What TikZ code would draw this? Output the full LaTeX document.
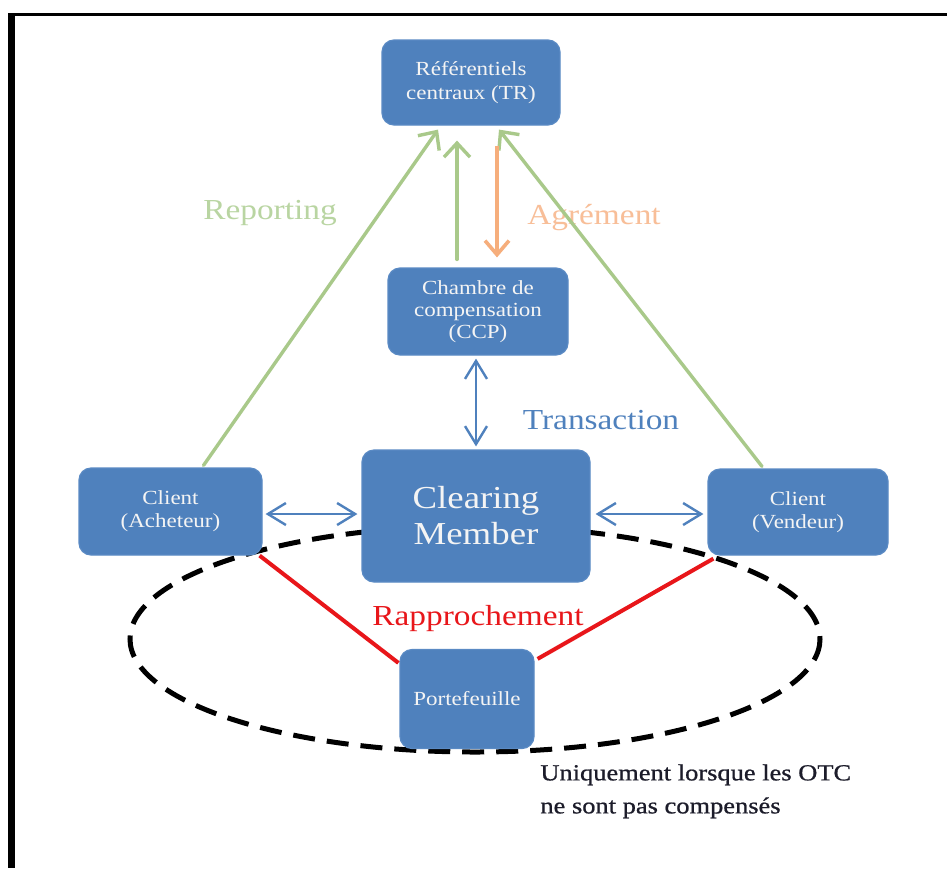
\documentclass[tikz,border=0pt]{standalone}
\usepackage{fontspec}
\setmainfont{Liberation Serif}[FakeStretch=1.15]
\newfontfamily\notefont{Liberation Serif}[FakeStretch=1.15,FakeBold=0.8]
\usetikzlibrary{arrows.meta,calc}

\definecolor{boxblue}{HTML}{4F81BD}
\definecolor{boxedge}{HTML}{5A8AC4}
\definecolor{boxtext}{HTML}{F4F4F4}
\definecolor{arrgreen}{HTML}{A9C98A}
\definecolor{lblgreen}{HTML}{B9D5A2}
\definecolor{arrorange}{HTML}{F6AE7C}
\definecolor{lblorange}{HTML}{F8BE98}
\definecolor{linkblue}{HTML}{4F81BD}
\definecolor{matchred}{HTML}{E8161A}
\definecolor{notetext}{HTML}{1C1C2A}

\begin{document}
\begin{tikzpicture}[x=0.5pt,y=-0.5pt,
  box/.style={rectangle, rounded corners=6pt, fill=boxblue, draw=boxedge,
    line width=0.6pt, text=boxtext, align=center, inner sep=0pt,
    font=\fontsize{10}{12}\selectfont},
  lbl/.style={inner sep=0pt, font=\fontsize{14.5}{17}\selectfont},
  report/.style={draw=arrgreen, line width=1.7pt, line cap=round,
    -{Straight Barb[length=7pt,width=13pt]}},
  approve/.style={draw=arrorange, line width=1.8pt,
    -{Straight Barb[length=7pt,width=12pt]}},
  link/.style={draw=linkblue, line width=1.2pt,
    {Straight Barb[length=9pt,width=11pt]}-{Straight Barb[length=9pt,width=11pt]}},
  match/.style={draw=matchred, line width=2pt},
  scopeline/.style={draw=black, line width=2.5pt, dash pattern=on 11pt off 6pt}
]
\useasboundingbox (0,0) rectangle (947,868);
\fill[white] (0,0) rectangle (947,868);

% page frame (top and left edges)
\fill[black] (8,13.3) rectangle (947,16);
\fill[black] (8,13.3) rectangle (15.3,868);

% dashed scope around the matching part
\draw[scopeline] (475,639) ellipse [x radius=345, y radius=113];

% free labels
\node[lbl, text=lblgreen] (reporting) at (270,213) {Reporting};
\node[lbl, text=lblorange] (agrement) at (594,218) {Agrément};
\node[lbl, text=linkblue] (transaction) at (601,420) {Transaction};
\node[lbl, text=matchred] (rapprochement) at (478,619) {Rapprochement};
\node[anchor=north west, align=left, inner sep=0pt, text=notetext,
  font=\notefont\fontsize{11.5}{16.5}\selectfont] (note) at (540,764)
  {Uniquement lorsque les OTC\\ne sont pas compensés};

% boxes
\node[box, minimum width=89pt, minimum height=42.5pt] (TR) at (471,82.5)
  {Référentiels\\centraux (TR)};
\node[box, minimum width=90pt, minimum height=43.5pt,
  font=\fontsize{10}{11}\selectfont] (CCP) at (478,311.5)
  {Chambre de\\compensation\\(CCP)};
\node[box, minimum width=114pt, minimum height=66pt,
  font=\fontsize{16}{18}\selectfont] (CM) at (476,516)
  {Clearing\\Member};
\node[box, minimum width=91.5pt, minimum height=43.5pt,
  font=\fontsize{10}{11.5}\selectfont] (CA) at (170.5,511.5)
  {Client\\(Acheteur)};
\node[box, minimum width=90pt, minimum height=43pt,
  font=\fontsize{10}{11.5}\selectfont] (CV) at (798,512)
  {Client\\(Vendeur)};
\node[box, minimum width=67pt, minimum height=49.5pt] (PF) at (467,699)
  {Portefeuille};

% reporting flows to the trade repository
\draw[report] ($(CA.north)+(33,-2)$) -- ($(TR.south)+(-33,4)$);
\draw[report] ($(CCP.north)+(-21,-8)$) -- ($(TR.south)+(-14,15)$);
\draw[report] ($(CV.north)+(-36,-2)$) -- ($(TR.south)+(28,4)$);

% approval of the CCP
\draw[approve] ($(TR.south)+(26,20)$) -- ($(CCP.north)+(19,-10)$);

% transactions
\draw[link] ($(CCP.south)+(-2,3)$) -- ($(CM.north)+(0,-3)$);
\draw[link] ($(CA.east)+(3,2.5)$) -- ($(CA.east -| CM.west)+(-4,2.5)$);
\draw[link] ($(CM.east)+(5,-2)$) -- ($(CM.east -| CV.west)+(-4,-2)$);

% matching with the portfolio
\draw[match] ($(CA.south east)+(-3,0)$) -- ($(PF.north west)+(-1,14)$);
\draw[match] ($(CV.south west)+(6,3)$) -- ($(PF.north east)+(3,10)$);
\end{tikzpicture}
\end{document}
